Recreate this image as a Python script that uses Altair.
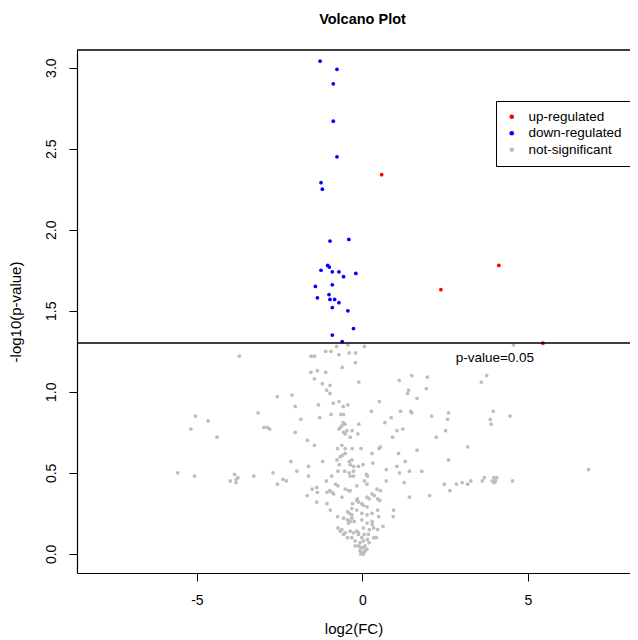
import math
import altair as alt
import pandas as pd

# ---- data ----
gray_fc = [-5.58, -5.07, -5.04, -4.66, -5.18, -4.39, -3.72, -3.99, -3.86, -3.76, -3.81, -3.82, -3.28, -3.15,
           -2.97, -2.87, -2.80, -2.70, -2.57, -2.57, -2.40, -2.30, -2.13, -2.03, -2.03, -2.16, -1.98, -1.86,
           -1.66, -1.63, -1.63, -1.67, -1.52, -1.38, -1.36, -1.45, -1.56, -1.45, -1.36, -1.55, -1.45, -1.38,
           -1.33, -1.29, -1.20, -1.11, -0.95, -0.78, -0.71, -1.11, -1.21, -0.98, -1.08, -0.98, -0.88, -0.71,
           -0.95, -0.75, -0.71, -0.67, -0.62, -0.44, -0.40, -0.21, -0.21, -0.61, -0.11, -0.58, -0.44, -0.65,
           -0.57, -0.58, -0.53, -0.11, -0.57, -0.47, -0.52, -0.31, -0.14, -0.37, -0.62, -0.52, -0.31, -0.04,
           0.06, 0.27, 0.51, 0.68, 0.87, 1.04, 1.22, 0.91, 0.50, 0.54, 1.11, 1.49, 1.96, 1.93, 1.36, 1.39,
           1.65, 1.15, 1.46, 1.49, 1.65, 3.59, 3.75, 4.56, 2.09, 2.60, 2.57, 3.95, 3.86, 3.89, 4.46, 2.51,
           2.23, 3.18, 2.60, 1.79, 2.47, 2.64, 2.84, 3.01, 3.18, 3.27, 3.62, 3.68, 3.92, 3.97, 4.02, 4.06,
           3.98, 4.53, 6.83, 2.03, 1.42, 1.29, 1.09, 1.04, 1.12, 1.42, 0.72, 0.72, 1.26, 0.94, 0.93, 0.29,
           0.31, -0.77, -0.67, -0.60, -0.52, -0.40, -0.32, -0.70, -0.37, -0.27, -0.12, 0.02, -0.74, -0.54,
           -0.40, -0.27, 0.12, 0.15, -0.93, -1.09, -0.37, -0.27, 0.06, -1.07, -0.99, -0.92, -0.87, -0.81,
           -0.74, -0.52, -0.42, -0.37, -0.17, 0.14, 0.29, 0.36, 0.44, 0.54, -0.62, -0.15, 0.14, 0.20, 0.46,
           0.52, -1.07, -0.97, -0.30, -0.17, -0.12, -0.02, 0.03, 0.14, -0.32, -0.17, -0.45, -0.39, -0.32,
           -0.75, -0.57, -0.02, 0.14, 0.29, 0.46, 0.49, -0.45, -0.32, -0.37, -0.42, -0.25, -0.02, 0.14,
           0.29, 0.30, -0.74, -0.62, -0.67, -0.52, -0.37, -0.27, -0.17, -0.12, 0.03, 0.21, 0.34, 0.46, 0.62,
           -0.57, -0.45, -0.32, -0.12, -0.02, 0.05, 0.18, 0.34, 0.42, -0.22, -0.07, 0.03, 0.15, 0.20, -0.22,
           -0.12, -0.05, 0.03, 0.08, 0.14, -0.07, -0.02, 0.03, 0.08, 0.02, -0.05, 0.05]
gray_p = [0.50, 0.48, 0.85, 0.82, 0.77, 0.72, 1.22, 0.45, 0.49, 0.47, 0.46, 0.44, 0.48, 0.87,
          0.78, 0.78, 0.77, 0.50, 0.97, 0.43, 0.46, 0.45, 0.98, 0.91, 0.75, 0.57, 0.51, 0.83,
          0.70, 0.54, 0.48, 0.36, 0.40, 0.41, 0.38, 0.67, 1.12, 1.08, 1.13, 1.22, 1.22, 0.32,
          0.92, 0.84, 0.57, 1.25, 1.25, 1.28, 1.23, 1.12, 1.05, 1.04, 1.01, 0.99, 0.93, 0.94,
          0.86, 0.65, 0.77, 0.78, 0.79, 1.29, 1.24, 1.24, 1.18, 1.15, 1.06, 0.91, 0.92, 0.86,
          0.86, 0.81, 0.80, 0.80, 0.75, 0.76, 0.74, 0.76, 0.74, 0.72, 0.67, 0.65, 0.65, 0.65,
          1.28, 0.88, 0.94, 0.81, 0.84, 0.76, 0.77, 0.72, 0.65, 0.66, 1.07, 1.10, 1.09, 1.02, 0.99, 1.01,
          0.96, 0.88, 0.88, 0.87, 0.64, 1.06, 1.10, 1.29, 0.85, 0.87, 0.83, 0.88, 0.83, 0.80, 0.85, 0.76,
          0.72, 0.66, 0.58, 0.51, 0.43, 0.39, 0.43, 0.44, 0.43, 0.45, 0.45, 0.47, 0.45, 0.47, 0.45, 0.47,
          0.44, 0.45, 0.52, 0.36, 0.35, 0.57, 0.62, 0.54, 0.50, 0.51, 0.52, 0.45, 0.44, 0.27, 0.23, 0.62,
          0.56, 0.58, 0.60, 0.61, 0.62, 0.57, 0.58, 0.55, 0.55, 0.54, 0.54, 0.55, 0.51, 0.51,
          0.50, 0.51, 0.49, 0.48, 0.48, 0.45, 0.48, 0.48, 0.45, 0.38, 0.39, 0.38, 0.37, 0.43,
          0.42, 0.40, 0.39, 0.39, 0.42, 0.43, 0.37, 0.36, 0.40, 0.39, 0.35, 0.34, 0.35, 0.34, 0.34,
          0.33, 0.31, 0.27, 0.31, 0.33, 0.32, 0.31, 0.30, 0.29, 0.28, 0.27, 0.26, 0.25, 0.24,
          0.23, 0.22, 0.25, 0.24, 0.25, 0.27, 0.23, 0.21, 0.22, 0.20, 0.19, 0.20, 0.21, 0.19,
          0.20, 0.18, 0.16, 0.15, 0.14, 0.13, 0.14, 0.13, 0.14, 0.13, 0.16, 0.15, 0.16, 0.15, 0.17,
          0.12, 0.10, 0.10, 0.12, 0.10, 0.12, 0.12, 0.10, 0.10, 0.08, 0.07, 0.08, 0.09, 0.07, 0.05,
          0.05, 0.04, 0.04, 0.05, 0.03, 0.02, 0.01, 0.00, 0.02, 0.00, 0.00, 0.01]

down_fc = [-1.28, -0.77, -0.88, -0.88, -0.77, -1.25, -1.21, -0.98, -0.41, -1.05, -1.00, -1.25, -0.91, -0.71,
           -0.57, -0.20, -1.42, -0.91, -1.01, -1.36, -0.98, -0.84, -0.71, -0.91, -0.44, -0.27, -0.91, -0.61]
down_p = [3.04, 2.99, 2.90, 2.67, 2.45, 2.29, 2.25, 1.93, 1.94, 1.78, 1.77, 1.75, 1.74, 1.74,
          1.71, 1.73, 1.65, 1.66, 1.60, 1.58, 1.57, 1.57, 1.55, 1.52, 1.50, 1.39, 1.35, 1.31]

up_fc = [0.58, 2.37, 4.12, 5.45]
up_p = [2.34, 1.63, 1.78, 1.30]

groups = ["up-regulated", "down-regulated", "not-significant"]
group_colors = ["#FF0000", "#0000FF", "#BEBEBE"]
x_ticks = [-5, 0, 5]
y_ticks = [0.0, 0.5, 1.0, 1.5, 2.0, 2.5, 3.0]
p_cut = 0.05
x_domain = [-8.62, 8.08]
y_domain = [-0.118, 3.109]
cut_label = "p-value=0.05"
cut_label_pos = [4.0, 1.21]

# ---- tables ----
rows = []
for g, xs, ys in [("not-significant", gray_fc, gray_p),
                  ("down-regulated", down_fc, down_p),
                  ("up-regulated", up_fc, up_p)]:
    rows += [{"log2FC": a, "nlp": b, "group": g} for a, b in zip(xs, ys)]
df = pd.DataFrame(rows)
hline_df = pd.DataFrame({"nlp": [-math.log10(p_cut), y_domain[1]]})
lab_df = pd.DataFrame({"log2FC": [cut_label_pos[0]], "nlp": [cut_label_pos[1]], "text": [cut_label]})

FONT = "Liberation Sans"
xscale = alt.Scale(domain=x_domain, nice=False, zero=False)
yscale = alt.Scale(domain=y_domain, nice=False, zero=False)

points = alt.Chart(df).mark_circle(size=14, opacity=1).encode(
    x=alt.X("log2FC:Q", scale=xscale,
            axis=alt.Axis(title="log2(FC)", values=x_ticks,
                          labelExpr="datum.value + ''", labelFont=FONT, labelFontSize=14,
                          labelColor="black", labelPadding=12, labelOverlap=False, labelFlush=False,
                          tickSize=8, tickColor="black", tickWidth=1,
                          domainColor="black", domainWidth=1.2, grid=False,
                          titleFont=FONT, titleFontSize=15, titleFontWeight="normal",
                          titleColor="black", titlePadding=14)),
    y=alt.Y("nlp:Q", scale=yscale,
            axis=alt.Axis(title="-log10(p-value)", values=y_ticks,
                          labelExpr="format(datum.value, '.1f')", labelAngle=270,
                          labelFont=FONT, labelFontSize=14, labelColor="black",
                          labelPadding=11, labelOverlap=False, labelFlush=False,
                          tickSize=8, tickColor="black", tickWidth=1,
                          domainColor="black", domainWidth=1.2, grid=False,
                          titleFont=FONT, titleFontSize=15, titleFontWeight="normal",
                          titleColor="black", titlePadding=21)),
    color=alt.Color("group:N", title=None,
                    scale=alt.Scale(domain=groups, range=group_colors),
                    legend=alt.Legend(orient="none", legendX=419, legendY=51,
                                      strokeColor="black", fillColor="white", padding=9,
                                      symbolType="circle", symbolSize=22, symbolStrokeWidth=0,
                                      labelFont=FONT, labelFontSize=13.5, labelColor="black",
                                      labelOffset=10, rowPadding=1.5)),
)

hlines = alt.Chart(hline_df).mark_rule(color="black", strokeWidth=1.3).encode(
    y=alt.Y("nlp:Q", scale=yscale)
)

label = alt.Chart(lab_df).mark_text(font=FONT, fontSize=13.5, align="center",
                                    baseline="middle", color="black").encode(
    x=alt.X("log2FC:Q", scale=xscale),
    y=alt.Y("nlp:Q", scale=yscale),
    text="text:N",
)

chart = alt.layer(points, hlines, label).properties(
    width=553, height=523,
    padding={"left": 69, "top": 42, "right": 0, "bottom": 67},
    autosize=alt.AutoSizeParams(type="none"),
    title=alt.TitleParams("Volcano Plot", font=FONT, fontSize=14.5, fontWeight="bold",
                          anchor="middle", offset=22, dx=9, color="black"),
).configure_view(strokeWidth=0)

chart.save("out.html", embed_options={"renderer": "svg", "actions": False})
